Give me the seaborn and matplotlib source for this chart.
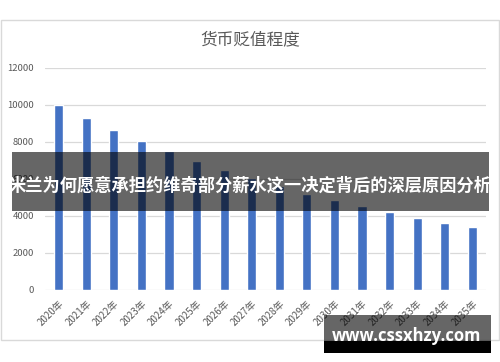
import matplotlib
matplotlib.use("Agg")
import matplotlib.pyplot as plt
import seaborn as sns
import pandas as pd
from matplotlib.patches import Rectangle

years = ["2020年", "2021年", "2022年", "2023年", "2024年", "2025年", "2026年", "2027年",
         "2028年", "2029年", "2030年", "2031年", "2032年", "2033年", "2034年", "2035年"]
values = [10000, 9300, 8650, 8050, 7500, 6950, 6480, 6020,
          5580, 5200, 4840, 4500, 4180, 3900, 3630, 3380]
yticks = [0, 2000, 4000, 6000, 8000, 10000, 12000]
title = "货币贬值程度"
banner = "米兰为何愿意承担约维奇部分薪水这一决定背后的深层原因分析"
watermark = "www.cssxhzy.com"

sns.set_theme(style="white")
plt.rcParams['font.family'] = ['Noto Sans CJK SC', 'DejaVu Sans']

W, H = 500, 362
fig = plt.figure(figsize=(W / 100, H / 100), dpi=100)
fig.patch.set_facecolor("white")

def fx(px):
    return px / W

def fy(py):
    return 1 - py / H

# chart frame
fig.patches.append(Rectangle((fx(1), fy(340)), fx(498), (340 - 20) / H,
                             transform=fig.transFigure, facecolor="white",
                             edgecolor="#d9d9d9", linewidth=1, zorder=-5))

ax = fig.add_axes([fx(45), fy(289.7), fx(486) - fx(45), (289.7 - 67.7) / H])
ax.set_zorder(1)
ax.set_facecolor("none")
df = pd.DataFrame({"year": years, "value": values})
sns.barplot(data=df, x="year", y="value", color="#4472C4", saturation=1,
            width=0.33, ax=ax, zorder=3)
ax.set_ylim(0, 12000)
ax.set_xlim(-0.5, len(years) - 0.5)
ax.set_yticks(yticks)
ax.set_yticklabels([str(v) for v in yticks])
ax.yaxis.grid(True, color="#d9d9d9", linewidth=0.9)
ax.set_axisbelow(True)
for s in ax.spines.values():
    s.set_visible(False)
ax.set_xlabel("")
ax.set_ylabel("")
ax.tick_params(axis="y", length=0, pad=8, labelsize=6.8, labelcolor="#595959")
ax.tick_params(axis="x", length=0, pad=6, labelsize=7, labelcolor="#595959")
for lab in ax.get_xticklabels():
    lab.set_rotation(45)
    lab.set_ha("right")
    lab.set_rotation_mode("anchor")

fig.text(fx(250), fy(40), title, ha="center", va="center", fontsize=12,
         color="#595959")

# banner overlay
fig.patches.append(Rectangle((fx(12), fy(210.7)), fx(477), (210.7 - 151.7) / H,
                             transform=fig.transFigure, facecolor="black",
                             alpha=0.6, edgecolor="none", zorder=10))
fig.text(fx(250.5), fy(186), banner, ha="center", va="center", fontsize=12.4,
         color="white", fontweight="bold", zorder=11)

# watermark
fig.patches.append(Rectangle((fx(324), fy(341)), fx(167), (341 - 315) / H,
                             transform=fig.transFigure, facecolor="black",
                             alpha=0.6, edgecolor="none", zorder=10))
fig.patches.append(Rectangle((fx(324), fy(353)), fx(167), (353 - 341) / H,
                             transform=fig.transFigure, facecolor="black",
                             edgecolor="none", zorder=10))
fig.text(fx(407), fy(336), watermark, ha="center", va="center", fontsize=12,
         color="white", fontweight="bold", family=["Open Sans", "DejaVu Sans"],
         zorder=11)

fig.savefig("out.png", dpi=100)
